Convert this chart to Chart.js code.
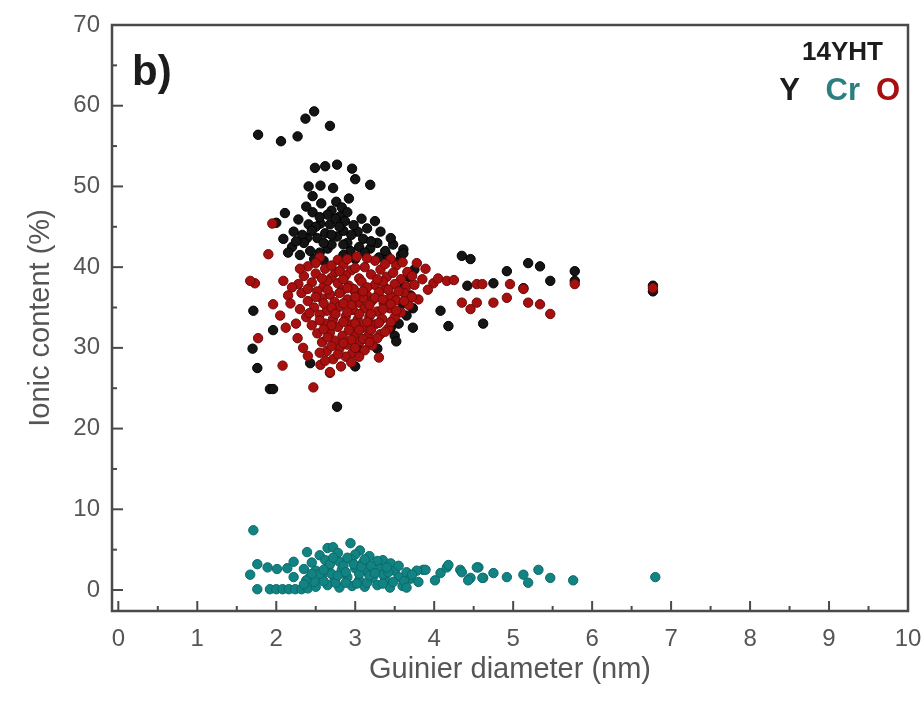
<!DOCTYPE html>
<html>
<head>
<meta charset="utf-8">
<script src="https://cdn.jsdelivr.net/npm/chart.js@4.4.1/dist/chart.umd.min.js"></script>
<style>
  html, body { margin: 0; padding: 0; background: #fff; }
  canvas { display: block; }
</style>
</head>
<body>
<canvas id="ionChart" width="924" height="701"></canvas>
<script>
// Axis ticks
const xTickValues = [0, 1, 2, 3, 4, 5, 6, 7, 8, 9, 10];
const xMinorValues = [0.5, 1.5, 2.5, 3.5, 4.5, 5.5, 6.5, 7.5, 8.5, 9.5];
const yTickValues = [0, 10, 20, 30, 40, 50, 60, 70];
const yMinorValues = [5, 15, 25, 35, 45, 55, 65];

// Y ions: [Guinier diameter (nm), ionic content (%)]
const yionPoints = [
  [1.77,56.4],[2.06,55.6],[2.27,56.2],[2.37,58.4],[2.48,59.3],[2.68,57.5],
  [2.49,52.3],[2.62,52.5],[2.77,52.7],[2.96,52.2],[3.00,50.9],[3.19,50.2],[2.41,50.0],[2.56,50.1],
  [2.72,49.8],[2.46,48.8],[2.57,47.9],[2.76,48.1],[2.11,46.7],[2.46,46.8],[2.28,45.9],[2.81,46.3],
  [2.22,44.4],[2.41,45.3],[2.56,45.4],[2.68,45.3],[2.87,45.7],[3.25,45.7],[2.09,43.5],[2.39,43.6],
  [2.52,43.6],[2.77,43.8],[3.03,44.4],[3.32,44.4],[3.48,42.8],[3.61,42.2],[2.43,42.0],[2.65,42.3],
  [2.94,42.0],[3.19,42.3],
  [2.70,47.0],[2.85,44.5],[2.90,43.0],[3.10,43.5],[3.00,41.0],[2.60,40.8],[3.40,41.5],[3.55,40.7],
  [2.30,41.5],[2.20,42.5],[2.75,46.0],[2.80,45.0],[2.95,44.0],[3.15,44.8],[2.62,44.2],[2.50,45.0],
  [2.33,44.0],[2.70,42.8],[3.05,42.5],[3.28,43.0],[3.38,42.0],[2.85,41.5],[2.55,41.8],[2.35,43.0],
  [2.83,47.4],
  [2.65,46.5],[2.90,46.8],[2.60,43.0],[2.85,42.8],[3.12,41.8],[3.30,41.2],[2.45,44.5],[2.70,44.0],
  [2.98,45.2],[3.08,46.0],[2.38,47.5],[2.55,46.2],[2.92,48.5],[3.20,43.2],[3.45,43.6],[3.58,41.5],
  [2.25,43.2],[2.48,41.0],[2.15,41.8],[2.00,45.5],
  [3.61,41.7],[4.35,41.4],[4.46,41.0],[4.92,39.5],[5.19,40.5],[5.34,40.1],[5.47,38.3],[5.78,39.5],
  [5.78,38.3],[6.77,37.7],[6.77,37.0],[4.75,38.0],[4.42,37.7],[5.13,37.4],[4.18,32.7],[4.62,33.0],
  [4.08,34.6],[3.73,34.9],[3.73,32.5],
  [1.71,34.6],[1.96,32.2],[1.70,29.9],[1.76,27.5],[1.92,24.9],[1.96,24.9],[2.43,28.1],[2.77,22.7],
  [3.00,27.7],[3.03,30.0],[3.28,29.9],
  [3.60,35.5],[3.65,34.0],[3.55,33.0],[3.70,36.5],[3.50,31.5],[3.45,32.5],[3.62,37.5],[3.68,38.8],
  [3.75,39.7],[3.52,30.8]
];

// Cr ions
const crPoints = [
  [1.71,7.4],[1.76,3.2],[1.67,1.9],[1.76,0.1],[1.92,0.1],[2.00,0.1],[2.08,0.1],[2.16,0.1],
  [2.24,0.1],[2.32,0.1],[2.40,0.2],[1.89,2.8],[2.01,2.6],[2.14,2.7],[2.22,3.5],[2.39,4.7],
  [2.22,1.6],[2.65,5.2],[2.72,5.3],[2.94,5.8],[3.06,4.9],[3.35,3.7],[3.86,2.5],[4.08,2.1],
  [4.16,2.8],[4.33,2.5],[4.46,1.5],[4.56,2.8],[4.62,1.5],[4.75,2.1],
  [3.89,2.5],[4.01,1.2],[4.18,3.1],[4.35,2.2],[4.43,1.2],[4.54,2.8],[4.61,1.5],[4.92,1.6],
  [5.13,1.9],[5.19,0.9],[5.32,2.5],[5.47,1.5],[5.76,1.2],[6.80,1.6],
  [2.55,4.3],[2.78,4.6],[3.00,4.4],[3.18,4.2],
  [2.45,3.4],[2.62,3.7],[2.80,3.5],[2.95,3.8],[3.10,3.4],[3.28,3.6],[3.45,3.3],
  [2.35,2.6],[2.50,2.4],[2.66,2.8],[2.83,2.5],[3.00,2.7],[3.15,2.3],[3.32,2.6],[3.50,2.4],[3.65,2.2],[3.78,2.4],
  [2.42,1.5],[2.58,1.7],[2.74,1.3],[2.90,1.6],[3.05,1.2],[3.22,1.5],[3.38,1.3],[3.55,1.6],[3.70,1.4],
  [2.50,0.4],[2.65,0.6],[2.80,0.3],[2.96,0.5],[3.12,0.4],[3.28,0.6],[3.44,0.3],[3.60,0.5],
  [2.85,3.0],[3.05,2.0],[2.70,2.0],[3.20,3.0],[2.60,1.1],[3.35,1.9],[2.90,4.0],[3.55,3.0],
  [2.48,1.0],[2.75,0.9],[3.15,0.9],
  [2.38,1.2],[2.55,2.0],[2.68,3.2],[2.78,1.8],[2.88,2.2],[2.98,3.2],[3.08,2.9],[3.18,1.8],
  [3.25,2.1],[3.42,2.2],[3.48,1.0],[3.62,1.1],[3.72,1.9],[2.88,0.9],[3.02,0.8],[3.35,0.8],
  [2.60,2.5],[2.72,4.0],[3.12,3.8],[3.40,2.8],[2.45,2.0],[2.35,0.7],[3.80,1.0],[3.65,0.3]
];

// O ions
const oPoints = [
  [1.90,41.6],[1.73,38.0],[1.67,38.3],[1.96,35.4],[1.77,31.2],[2.08,27.8],[2.47,25.1],[2.68,26.9],
  [2.27,31.2],[2.34,30.0],[2.09,38.3],[1.95,45.4],[2.15,36.5],[2.05,34.0],
  [3.89,39.8],[3.99,38.0],[4.16,38.3],[4.54,37.9],[4.61,37.9],[4.35,35.6],[4.46,34.8],[4.54,35.6],
  [4.75,35.6],[4.92,36.2],[5.19,35.6],[5.34,35.4],[5.47,34.2],[5.13,37.3],[6.77,37.4],[4.96,37.9],
  [5.78,37.9],[3.85,38.5],[3.92,37.2],[4.05,38.6],[4.25,38.4],[3.80,36.0],[3.78,40.5],
  [2.55,41.2],[2.78,40.9],[3.02,41.3],[3.25,40.8],[3.45,41.0],
  [2.40,40.1],[2.62,39.8],[2.85,40.3],[2.95,39.6],[3.12,40.0],[3.32,39.7],[3.52,40.2],[3.66,39.4],
  [2.35,38.9],[2.50,39.2],[2.70,38.7],[2.88,39.0],[3.05,38.6],[3.20,39.1],[3.40,38.8],[3.58,38.5],[3.72,38.9],
  [2.28,37.9],[2.45,38.1],[2.60,37.6],[2.78,38.0],[2.92,37.7],[3.08,38.2],[3.25,37.8],[3.38,37.4],[3.50,37.9],[3.65,37.6],
  [2.32,36.8],[2.52,37.0],[2.68,36.6],[2.83,37.1],[3.00,36.9],[3.15,36.5],[3.30,36.9],[3.45,36.4],[3.62,36.8],[2.20,37.5],
  [2.40,35.8],[2.58,36.1],[2.74,35.7],[2.90,36.0],[3.05,35.6],[3.22,35.9],[3.36,35.5],[3.52,35.9],[3.68,35.3],
  [2.30,34.8],[2.48,35.0],[2.64,34.6],[2.80,35.1],[2.97,34.7],[3.12,34.9],[3.28,34.5],[3.44,34.9],[3.58,34.4],
  [2.38,33.8],[2.55,34.1],[2.72,33.6],[2.88,33.9],[3.03,33.5],[3.18,33.9],[3.34,33.6],[3.50,33.8],
  [2.45,32.8],[2.62,33.0],[2.78,32.6],[2.94,32.9],[3.10,32.5],[3.25,32.9],[3.42,32.4],
  [2.52,31.8],[2.68,31.9],[2.84,31.5],[3.00,31.8],[3.16,31.4],[3.32,31.7],
  [2.58,30.7],[2.74,30.9],[2.90,30.4],[3.06,30.8],[3.22,30.3],
  [2.64,29.6],[2.80,29.9],[2.96,29.3],[3.12,29.7],
  [2.72,28.6],[2.88,28.9],[2.40,29.0],[3.30,28.8],
  [2.82,27.7],[2.56,27.9],
  [2.85,38.5],[2.98,37.3],[3.10,36.2],[2.95,35.3],[3.20,34.2],[2.70,35.0],[3.00,33.0],[2.80,36.8],
  [3.35,38.2],[3.15,37.5],[2.65,38.3],[3.25,36.2],[2.90,34.4],[3.05,32.2],[2.75,39.4],[3.42,37.2],
  [2.50,40.5],[2.70,40.2],[2.90,41.0],[3.15,41.1],[3.38,40.4],[3.60,40.6],
  [2.58,38.6],[2.80,39.5],[3.00,39.9],[3.28,38.5],[3.48,39.3],[3.75,37.8],
  [2.40,37.3],[2.65,37.2],[2.90,37.4],[3.10,37.0],[3.35,36.0],[3.55,37.0],[3.72,36.3],
  [2.50,36.3],[2.85,35.5],[3.00,36.3],[3.18,35.3],[3.45,35.4],[3.62,35.8],
  [2.42,34.3],[2.60,35.5],[2.75,34.2],[3.05,34.2],[3.35,34.8],[3.52,34.6],
  [2.55,33.4],[2.70,32.8],[2.85,33.2],[3.15,33.2],[3.30,33.1],[3.45,33.2],
  [2.60,32.3],[2.92,32.2],[3.20,32.2],[3.38,32.0],
  [2.65,31.3],[2.95,31.0],[3.10,31.1],[3.28,31.2],
  [2.70,30.2],[2.85,30.6],[3.00,30.0],[3.18,30.7],
  [2.55,29.4],[2.78,29.2],[3.05,28.9],
  [2.62,28.4],[2.95,28.2],[2.68,27.0],[2.25,33.0],[2.18,35.5],[2.12,32.5],[2.30,39.8]
];

const colors = {
    y: '#151515',
    cr: '#118383',
    o: '#a80f0f',
    axis: '#4a4a4a',
    text: '#555555'
};

const toXY = pts => pts.map(p => ({ x: p[0], y: p[1] }));

// inward tick marks + frame box
const framePlugin = {
    id: 'frame',
    afterDatasetsDraw(chart) {
        const { ctx, chartArea: a, scales } = chart;
        const xs = scales.x, ys = scales.y;
        ctx.save();
        ctx.strokeStyle = colors.axis;
        ctx.lineWidth = 2;
        xTickValues.forEach(v => {
            const px = xs.getPixelForValue(v);
            ctx.beginPath(); ctx.moveTo(px, a.bottom); ctx.lineTo(px, a.bottom - 10); ctx.stroke();
        });
        xMinorValues.forEach(v => {
            const px = xs.getPixelForValue(v);
            ctx.beginPath(); ctx.moveTo(px, a.bottom); ctx.lineTo(px, a.bottom - 5); ctx.stroke();
        });
        yTickValues.forEach(v => {
            const py = ys.getPixelForValue(v);
            ctx.beginPath(); ctx.moveTo(a.left, py); ctx.lineTo(a.left + 11, py); ctx.stroke();
        });
        yMinorValues.forEach(v => {
            const py = ys.getPixelForValue(v);
            ctx.beginPath(); ctx.moveTo(a.left, py); ctx.lineTo(a.left + 5, py); ctx.stroke();
        });
        ctx.lineWidth = 2.5;
        ctx.strokeRect(a.left, a.top, a.right - a.left, a.bottom - a.top);
        ctx.restore();
    }
};

// panel label and legend text
const labelPlugin = {
    id: 'labels',
    afterDraw(chart) {
        const { ctx, chartArea: a } = chart;
        ctx.save();
        ctx.textBaseline = 'alphabetic';
        ctx.fillStyle = '#1c1c1c';
        ctx.font = 'bold 42px "Liberation Sans", Arial, sans-serif';
        ctx.textAlign = 'left';
        ctx.fillText('b)', a.left + 20, a.top + 60);

        ctx.textAlign = 'right';
        ctx.font = 'bold 26px "Liberation Sans", Arial, sans-serif';
        ctx.fillText('14YHT', a.right - 25, a.top + 35);

        ctx.font = 'bold 31px "Liberation Sans", Arial, sans-serif';
        ctx.fillStyle = colors.o;
        ctx.fillText('O', a.right - 8, a.top + 75);
        ctx.fillStyle = '#2b7f80';
        ctx.fillText('Cr', a.right - 48, a.top + 75);
        ctx.fillStyle = '#1c1c1c';
        ctx.fillText('Y', a.right - 108, a.top + 75);
        ctx.restore();
    }
};

const pointStyle = (fill, edge) => ({
    backgroundColor: fill,
    borderColor: edge,
    borderWidth: 1,
    pointRadius: 4.7,
    pointHoverRadius: 4.7,
    showLine: false
});

const ctx = document.getElementById('ionChart').getContext('2d');
const chart = new Chart(ctx, {
    type: 'scatter',
    data: {
        datasets: [
            Object.assign({ label: 'Cr', data: toXY(crPoints), order: 1 }, pointStyle(colors.cr, '#0c6a6a')),
            Object.assign({ label: 'O', data: toXY(oPoints), order: 2 }, pointStyle(colors.o, '#6e0909')),
            Object.assign({ label: 'Y', data: toXY(yionPoints), order: 3 }, pointStyle(colors.y, '#000000'))
        ]
    },
    options: {
        responsive: false,
        animation: false,
        layout: { padding: { top: 25, right: 16, left: 0, bottom: 0 } },
        plugins: {
            legend: { display: false },
            tooltip: { enabled: false }
        },
        scales: {
            x: {
                type: 'linear',
                min: -0.08,
                max: 10,
                afterBuildTicks: s => { s.ticks = xTickValues.map(v => ({ value: v })); },
                afterFit: s => { s.height = 90; s.paddingLeft = 0; s.paddingRight = 0; },
                grid: { display: false, drawTicks: false },
                border: { display: false },
                ticks: {
                    color: colors.text,
                    padding: 14,
                    font: { family: '"Liberation Sans", Arial, sans-serif', size: 24 }
                },
                title: {
                    display: true,
                    text: 'Guinier diameter (nm)',
                    color: colors.text,
                    padding: { top: 0, bottom: 14 },
                    font: { family: '"Liberation Sans", Arial, sans-serif', size: 29 }
                }
            },
            y: {
                type: 'linear',
                min: -2.6,
                max: 70,
                afterBuildTicks: s => { s.ticks = yTickValues.map(v => ({ value: v })); },
                afterFit: s => { s.width = 112; s.paddingTop = 0; s.paddingBottom = 0; },
                grid: { display: false, drawTicks: false },
                border: { display: false },
                ticks: {
                    color: colors.text,
                    padding: 12,
                    font: { family: '"Liberation Sans", Arial, sans-serif', size: 24 }
                },
                title: {
                    display: true,
                    text: 'Ionic content (%)',
                    color: colors.text,
                    padding: { top: 24, bottom: 0 },
                    font: { family: '"Liberation Sans", Arial, sans-serif', size: 29 }
                }
            }
        }
    },
    plugins: [framePlugin, labelPlugin]
});
</script>
</body>
</html>
